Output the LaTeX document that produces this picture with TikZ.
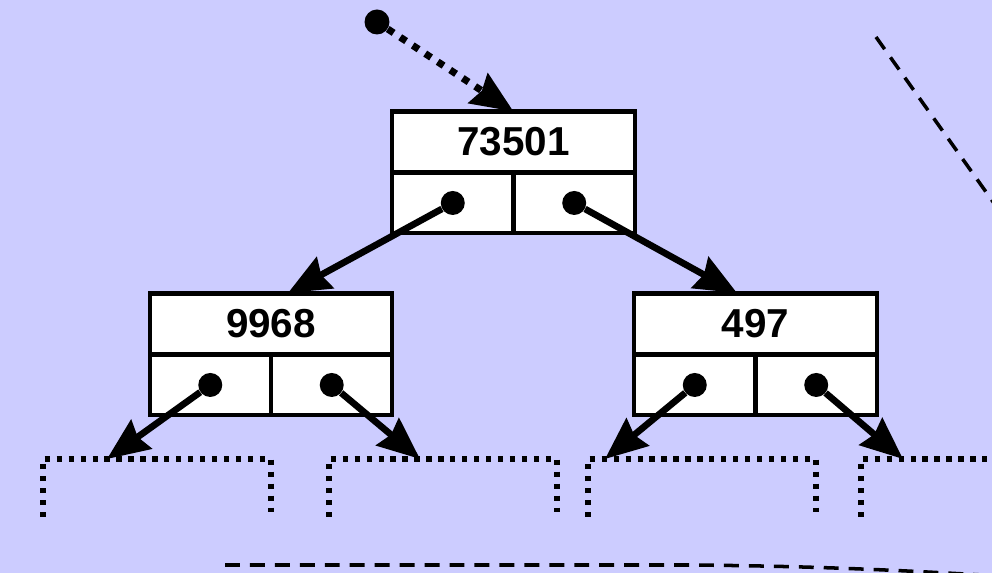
\documentclass[tikz,border=0pt]{standalone}
\usepackage{fontspec}
\setmainfont{Liberation Sans}
\usetikzlibrary{positioning, arrows.meta, calc}
\definecolor{bgBlue}{RGB}{204,204,255}
\tikzstyle{keyBox}=[draw=black, fill=white, line width=2.3pt, minimum width=4.86cm,
  minimum height=1.22cm, inner sep=0pt, outer sep=0pt,
  font=\fontsize{23}{27}\selectfont\bfseries]
\tikzstyle{cellBox}=[draw=black, fill=white, line width=2.3pt, minimum width=2.43cm,
  minimum height=1.22cm, inner sep=0pt, outer sep=0pt]
\tikzstyle{ptrDot}=[circle, fill=black, minimum size=0.48cm, inner sep=0pt]
\tikzstyle{arrow}=[-{Stealth[length=24pt, width=20pt, inset=2.5pt]}, line width=3.8pt, draw=black]
\tikzstyle{headArrow}=[arrow, line width=4pt, dash pattern=on 4pt off 4.5pt]
\tikzstyle{nilBox}=[line width=3pt, dash pattern=on 3pt off 3.8pt, draw=black]
\tikzstyle{outline}=[line width=2pt, dash pattern=on 8.5pt off 5.7pt, draw=black]

\begin{document}
\begin{tikzpicture}[x=0.02cm, y=-0.02cm]
      \fill[bgBlue] (0,0) rectangle (992,573);
      \useasboundingbox (0,0) rectangle (992,573);
      \clip (0,0) rectangle (992,573);

      % tree nodes: key on top, two pointer cells below
      \foreach \n/\x/\y/\k in {root/513.5/142/73501, left/271/324/9968, right/755.5/324/497} {
        \node[keyBox] (\n) at (\x,\y) {\k};
        \node[cellBox, anchor=north east] (\n-L) at (\n.south) {};
        \node[cellBox, anchor=north west] (\n-R) at (\n.south) {};
        \node[ptrDot] (\n-Ld) at (\n-L.center) {};
        \node[ptrDot] (\n-Rd) at (\n-R.center) {};
      }

      % empty subtrees
      \foreach \x in {43,329,588,861}
      \draw[nilBox] (\x,517) -- (\x,459) -- (\x+228,459) -- (\x+228,512);

      \coordinate (t1) at (288,293);
      \coordinate (t2) at (737,293);
      \coordinate (t3) at (107,459);
      \coordinate (t4) at (420,459);
      \coordinate (t5) at (605,459);
      \coordinate (t6) at (903,459);

      \draw[arrow] (root-Ld) -- (t1);
      \draw[arrow] (root-Rd) -- (t2);
      \draw[arrow] (left-Ld) -- (t3);
      \draw[arrow] (left-Rd) -- (t4);
      \draw[arrow] (right-Ld) -- (t5);
      \draw[arrow] (right-Rd) -- (t6);

      \node[ptrDot, minimum size=0.5cm] (head) at (377,22) {};
      \draw[headArrow] (head) -- (root.north);

      \draw[outline] (876,37) -- (1040,268);
      \draw[outline] (225,565) -- (690,565) .. controls (800,566) and (880,569) .. (1000,576);
\end{tikzpicture}
\end{document}
